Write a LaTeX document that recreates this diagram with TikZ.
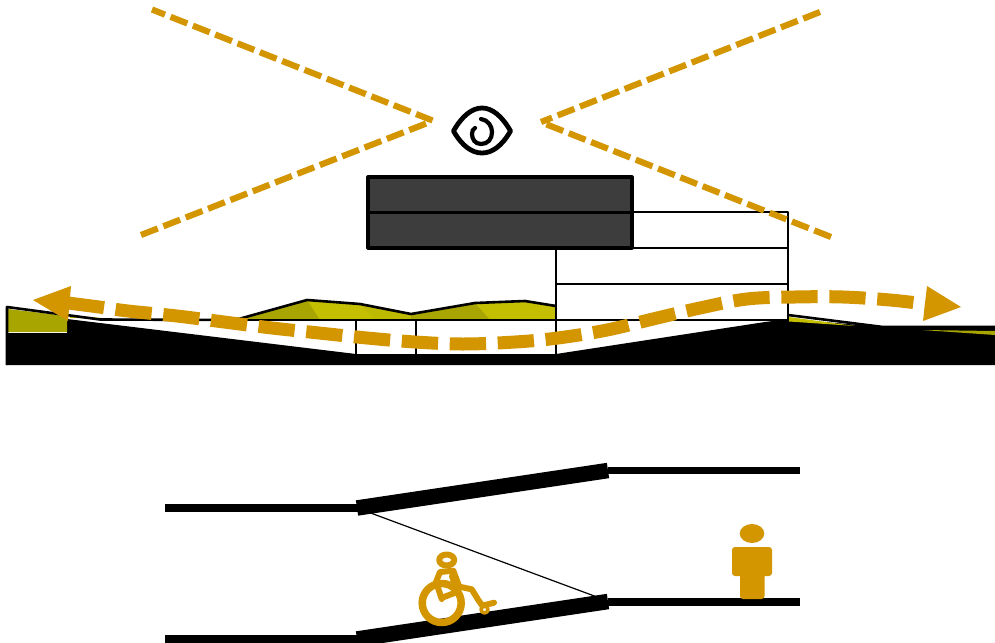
\documentclass[tikz,border=0pt]{standalone}
\begin{document}
\definecolor{amber}{HTML}{D49600}
\definecolor{moss}{HTML}{C4BF00}
\definecolor{mossdark}{HTML}{A8A400}
\definecolor{slab}{HTML}{3D3D3D}
\begin{tikzpicture}[x=1pt,y=-1pt,
  wall/.style={draw=black,line width=2.6pt,line join=round},
  sight/.style={draw=amber,line width=6.2pt,dash pattern=on 18pt off 6pt},
  route/.style={draw=amber,line width=13pt,dash pattern=on 36.3pt off 11.7pt},
  floorline/.style={draw=black,line width=7.5pt},
  ramp/.style={draw=black,line width=15.5pt},
  figure/.style={draw=amber,line width=6pt,line join=round,line cap=round}]
\useasboundingbox (0,0) rectangle (995,642);
% hills and ground
\fill[moss] (235,320) -- (307,300) -- (360,304) -- (411,314) -- (475,303) -- (525,301) -- (556,306) -- (556,320) -- cycle;
\fill[mossdark] (235,320) -- (307,300) -- (320,320) -- cycle;
\fill[mossdark] (411,314) -- (475,303) -- (490,320) -- (411,320) -- cycle;
\fill[moss!80!mossdark] (360,304) -- (411,314) -- (411,320) -- (375,320) -- cycle;
\fill[black] (7,333) -- (67,333) -- (67,319) -- (356,354) -- (556,354) -- (765,322) -- (788,319) -- (883,327) -- (995,327) -- (995,365) -- (7,365) -- cycle;
\fill[mossdark] (8,309) -- (67,316) -- (67,332) -- (8,332) -- cycle;
\fill[moss] (70,315) -- (112,319) -- (70,318) -- cycle;
\fill[moss] (789,317) -- (855,326) -- (789,321.5) -- cycle;
\fill[mossdark] (922,330) -- (995,331) -- (995,335) -- cycle;
\draw[wall] (7,365) -- (7,307) -- (100,319.5) -- (235,320) -- (307,300) -- (360,304) -- (411,314) -- (475,303) -- (525,301) -- (556,306);
\draw[wall] (788,315) -- (883,327) -- (995,327);
% building
\draw[wall] (235,320) -- (788,320);
\draw[wall] (356,320) -- (356,354);
\draw[wall] (416,320) -- (416,354);
\draw[wall] (556,248) -- (556,354);
\draw[wall] (556,284) -- (788,284);
\draw[wall] (556,248) -- (788,248);
\draw[wall] (632,212) -- (788,212) -- (788,320);
\draw[draw=black,line width=3.2pt,fill=slab,line join=round] (368,177) rectangle (632,248);
\draw[draw=black,line width=3.2pt] (368,212.5) -- (632,212.5);
% sight lines
\coordinate (eyeL) at (432.5,120.5);
\coordinate (eyeLb) at (430,122);
\coordinate (eyeR) at (541,122);
\coordinate (eyeRb) at (543,123);
\coordinate (farTL) at (152,9.5);
\coordinate (farBL) at (141,235);
\coordinate (farTR) at (820,12);
\coordinate (farBR) at (831,237);
\draw[sight,dash phase=4pt] (farTL) -- (eyeL);
\draw[sight] (farBL) -- (eyeLb);
\draw[sight] (farTR) -- (eyeR);
\draw[sight] (farBR) -- (eyeRb);
% eye
\draw[black,line width=4.8pt,line join=round] (453.5,131) .. controls (462,116) and (472,108) .. (482,108) .. controls (492,108) and (502,116) .. (510.5,131) .. controls (502,146) and (492,153) .. (482,153) .. controls (472,153) and (462,146) .. (453.5,131) -- cycle;
\draw[black,line width=4.2pt,line cap=round] (481,119) .. controls (488,120) and (492,126) .. (492,132) .. controls (492,139) and (488,144) .. (481,144) .. controls (475,144) and (472,139) .. (472,134) .. controls (472,131) and (473,129) .. (475,128);
% route arrow
\draw[route] plot[smooth,tension=0.6] coordinates {(68,303) (99,307) (128,311) (177,316) (224,322) (272,328) (319,333) (367,338) (415,342) (463,344) (515,342) (558,338) (607,330) (653,319) (700,308) (747,299) (795,297) (843,297) (890,300) (925,304)};
\fill[amber] (33,300) -- (71,286) -- (68,321) -- cycle;
\fill[amber] (927,286) -- (961,307) -- (923,321) -- cycle;
% ramps plan
\draw[floorline,line width=8.5pt] (165,508) -- (358,508);
\draw[ramp] (357,508) -- (608,470.5);
\draw[floorline] (608,470.5) -- (800,470.5);
\draw[floorline,line width=8.5pt] (165,639) -- (358,639);
\draw[ramp] (357,639) -- (608,601.5);
\draw[floorline] (608,602) -- (800,602);
\draw[black,line width=1.2pt] (368,512) -- (597,597);
% wheelchair
\draw[figure,line width=7.5pt] (441.7,603) circle (19.5);
\draw[figure] (446.7,560) ellipse (7.5 and 5.5);
\draw[figure] (441.7,599) -- (436,582) -- (440,572) -- (453.3,570.7) -- (459.3,586.7) -- (471.7,589.3) -- (478.3,600) -- (482.3,605.7) -- (494,602.7);
\draw[figure] (452,576) -- (457,592) -- (444,597);
\draw[figure,line width=3.5pt] (484.5,609.5) circle (3.5);
% person
\fill[amber] (752,533.5) ellipse (12.3 and 9.5);
\fill[amber,rounded corners=3pt] (732,547) rectangle (772,576);
\fill[amber,rounded corners=3pt] (740,570) rectangle (764.5,599);
\end{tikzpicture}
\end{document}
